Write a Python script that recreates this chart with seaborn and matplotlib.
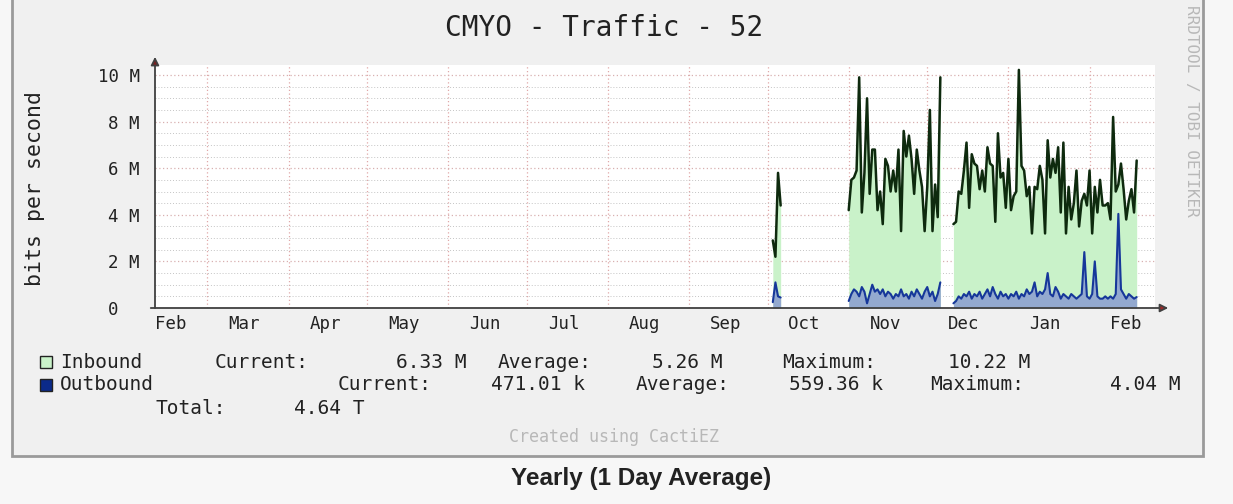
'''
Recreate the CactiEZ / RRDtool yearly traffic graph for CMYO port 52.
'''

import matplotlib
matplotlib.use('Agg')
import matplotlib.pyplot as plt
import matplotlib.dates as mdates
from matplotlib.patches import Rectangle
import seaborn as sns
import numpy as np
import pandas as pd

# Daily averages in Mbit/s. Three stretches of data with gaps between.
seg1_start = '2013-10-03'
seg1_in = [2.9, 2.2, 5.8, 4.4]
seg1_out = [0.25, 1.1, 0.5, 0.45]

seg2_start = '2013-11-01'
seg2_in = [4.2, 5.5, 5.6, 5.9, 9.9, 4.1, 5.8, 9.0, 4.9, 6.8, 6.8, 4.2, 5.0, 3.6, 6.4, 6.1, 5.0, 5.9,
           5.0, 6.8, 3.3, 7.6, 6.5, 7.4, 6.4, 4.9, 6.8, 5.9, 5.2, 3.3, 5.2, 8.5, 3.3, 5.3, 3.9, 9.9]
seg2_out = [0.3, 0.6, 0.8, 0.7, 0.5, 0.9, 0.7, 0.2, 0.6, 1.0, 0.7, 0.8, 0.6, 0.8, 0.5, 0.7, 0.6, 0.4,
            0.6, 0.5, 0.8, 0.5, 0.6, 0.4, 0.7, 0.5, 0.8, 0.6, 0.4, 0.7, 0.9, 0.5, 0.7, 0.3, 0.6, 1.1]

seg3_start = '2013-12-11'
seg3_in = [3.6, 3.7, 5.0, 4.9, 5.9, 7.1, 4.3, 6.6, 6.2, 6.1, 5.1, 5.9, 5.0, 6.9, 6.2, 6.1, 3.7, 7.5,
           5.6, 5.8, 4.3, 6.4, 4.2, 4.8, 5.0, 10.22, 6.1, 5.9, 4.8, 5.2, 3.2, 5.2, 5.1, 6.1, 5.5, 3.2,
           7.2, 5.6, 6.4, 5.8, 6.9, 4.1, 7.1, 3.2, 5.2, 3.8, 4.5, 5.9, 3.5, 4.6, 4.9, 4.4, 5.9, 3.2,
           5.2, 4.1, 5.5, 4.4, 4.4, 4.5, 3.8, 8.2, 5.0, 5.3, 6.2, 5.1, 3.8, 4.6, 5.1, 4.1, 6.33]
seg3_out = [0.2, 0.3, 0.5, 0.4, 0.6, 0.5, 0.7, 0.4, 0.6, 0.5, 0.7, 0.4, 0.6, 0.8, 0.5, 0.9, 0.6, 0.4,
            0.7, 0.5, 0.6, 0.4, 0.6, 0.5, 0.7, 0.4, 0.6, 0.5, 0.8, 0.6, 0.7, 1.1, 0.5, 0.7, 0.6, 0.8,
            1.5, 0.6, 0.5, 0.9, 0.7, 0.4, 0.6, 0.5, 0.4, 0.6, 0.5, 0.4, 0.5, 0.6, 2.4, 0.5, 0.4, 0.6,
            2.0, 0.5, 0.4, 0.4, 0.5, 0.4, 0.5, 0.4, 0.6, 4.04, 0.8, 0.6, 0.4, 0.6, 0.5, 0.4, 0.47]

y_ticks = [0, 2, 4, 6, 8, 10]
y_tick_labels = ['0  ', '2 M', '4 M', '6 M', '8 M', '10 M']

# Legend / summary text (rrdtool GPRINT lines)
legend_names = ['Inbound', 'Outbound']
legend_current = ['6.33 M', '471.01 k']
legend_average = ['5.26 M', '559.36 k']
legend_maximum = ['10.22 M', '4.04 M']
total_text = '4.64 T'

W, H = 1233, 504
MONO = 'DejaVu Sans Mono'
INK = '#222222'


def px(x, y):
    '''Pixel position (from top-left) to figure fraction.'''
    return x / W, 1 - y / H


def build_frame():
    rows = []
    for start, vin, vout, seg in [(seg1_start, seg1_in, seg1_out, 1),
                                  (seg2_start, seg2_in, seg2_out, 2),
                                  (seg3_start, seg3_in, seg3_out, 3)]:
        dates = pd.date_range(start, periods=len(vin), freq='D')
        rows.append(pd.DataFrame({'date': dates, 'inbound': vin, 'outbound': vout, 'segment': seg}))
    return pd.concat(rows, ignore_index=True)


def plot_traffic(filename='out.png'):
    data = build_frame()

    sns.set_style('white')
    fig = plt.figure(figsize=(W / 100, H / 100), dpi=100, facecolor='#f7f7f7')

    # Grey rrdtool panel with a border (kept behind the axes)
    x0, y0 = px(12, 456)
    fig.patches.append(Rectangle((x0, y0), 1191 / W, 1.0, transform=fig.transFigure,
                                 facecolor='#f0f0f0', edgecolor='#9a9a9a', linewidth=2, zorder=-10))

    left, top = px(155, 65)
    right, bottom = px(1155, 308)
    ax = fig.add_axes([left, bottom, right - left, top - bottom])
    ax.set_zorder(5)
    ax.set_facecolor('white')

    for seg, d in data.groupby('segment'):
        ax.fill_between(d['date'], 0, d['inbound'], color='#c9f2c9', linewidth=0, zorder=1)
        ax.fill_between(d['date'], 0, d['outbound'], color='#93a9cf', linewidth=0, zorder=2)
        sns.lineplot(data=d, x='date', y='inbound', ax=ax, color='#0e2a0e', linewidth=1.8, zorder=3)
        sns.lineplot(data=d, x='date', y='outbound', ax=ax, color='#16379a', linewidth=1.5, zorder=4)

    ax.set_xlim(pd.Timestamp('2013-02-09'), pd.Timestamp('2014-02-26'))
    ax.set_ylim(0, 10.43)

    # Month boundaries as grid lines, month names centred mid-month
    ax.xaxis.set_major_locator(mdates.MonthLocator(bymonthday=1))
    ax.xaxis.set_major_formatter(plt.NullFormatter())
    ax.xaxis.set_minor_locator(mdates.MonthLocator(bymonthday=15))
    ax.xaxis.set_minor_formatter(mdates.DateFormatter('%b'))
    ax.tick_params(axis='x', which='major', length=3, color='#d09090')
    ax.tick_params(axis='x', which='minor', length=0, pad=5, labelsize=12.5, labelcolor=INK)
    for lab in ax.get_xticklabels(minor=True):
        lab.set_family(MONO)

    ax.set_yticks(y_ticks)
    ax.set_yticklabels(y_tick_labels, family=MONO, fontsize=12.5, color=INK)
    ax.set_yticks(np.arange(0, 10.5, 0.5), minor=True)
    ax.tick_params(axis='y', which='major', length=3, color='#d09090', pad=8)
    ax.tick_params(axis='y', which='minor', length=0)

    ax.grid(which='major', axis='x', color='#e0a8a8', linestyle=(0, (1, 2)), linewidth=0.9)
    ax.grid(which='major', axis='y', color='#d8b0b0', linestyle=(0, (1, 2)), linewidth=0.9)
    ax.grid(which='minor', axis='y', color='#c4c4c4', linestyle=(0, (1, 2)), linewidth=0.7)
    ax.set_axisbelow(True)

    ax.set_xlabel('')
    ax.set_ylabel('')
    for s in ax.spines.values():
        s.set_visible(False)

    # Axis lines with arrow heads, like rrdtool
    ax.annotate('', xy=(0, 1.045), xytext=(0, -0.012), xycoords='axes fraction',
                arrowprops=dict(arrowstyle='-|>', lw=1.3, mutation_scale=12,
                                fc='#7a2020', ec='#404040'), annotation_clip=False)
    ax.annotate('', xy=(1.016, 0), xytext=(-0.007, 0), xycoords='axes fraction',
                arrowprops=dict(arrowstyle='-|>', lw=1.3, mutation_scale=12,
                                fc='#a02828', ec='#404040'), annotation_clip=False)

    # Title, axis label, watermark
    fig.text(*px(604, 28), 'CMYO - Traffic - 52', family=MONO, fontsize=20, ha='center', va='center', color=INK)
    fig.text(*px(35, 188), 'bits per second', family=MONO, fontsize=15.5, rotation=90,
             ha='center', va='center', color=INK)
    fig.text(*px(1192, 5), 'RRDTOOL / TOBI OETIKER', family=MONO, fontsize=11.5, rotation=270,
             ha='center', va='top', color='#b8b8b8')

    # Legend rows
    row_y = [362, 385]
    square_colors = ['#c9f2c9', '#0b2a8a']
    name_x = 60
    cur_x = [215, 338]
    cur_val_x = [466, 585]
    avg_x = [498, 636]
    avg_val_x = [722, 883]
    max_x = [782, 930]
    max_val_x = [1030, 1180]
    kw = dict(family=MONO, fontsize=14, va='center', color=INK)
    for i in range(2):
        y = row_y[i]
        sx, sy = px(40, y + 6)
        fig.patches.append(Rectangle((sx, sy), 12 / W, 12 / H, transform=fig.transFigure,
                                     facecolor=square_colors[i], edgecolor=INK, linewidth=1))
        fig.text(*px(name_x, y), legend_names[i], ha='left', **kw)
        fig.text(*px(cur_x[i], y), 'Current:', ha='left', **kw)
        fig.text(*px(cur_val_x[i], y), legend_current[i], ha='right', **kw)
        fig.text(*px(avg_x[i], y), 'Average:', ha='left', **kw)
        fig.text(*px(avg_val_x[i], y), legend_average[i], ha='right', **kw)
        fig.text(*px(max_x[i], y), 'Maximum:', ha='left', **kw)
        fig.text(*px(max_val_x[i], y), legend_maximum[i], ha='right', **kw)
    fig.text(*px(155, 408), 'Total:', ha='left', **kw)
    fig.text(*px(365, 408), total_text, ha='right', **kw)

    fig.text(*px(614, 437), 'Created using CactiEZ', family=MONO, fontsize=12, ha='center', va='center', color='#b8b8b8')
    fig.text(*px(641, 478), 'Yearly (1 Day Average)', family=['Liberation Sans Narrow', 'Liberation Sans', 'DejaVu Sans'],
             fontsize=17.5, weight='bold', ha='center', va='center', color=INK)

    fig.savefig(filename, dpi=100, facecolor=fig.get_facecolor())


if __name__ == '__main__':
    plot_traffic()
